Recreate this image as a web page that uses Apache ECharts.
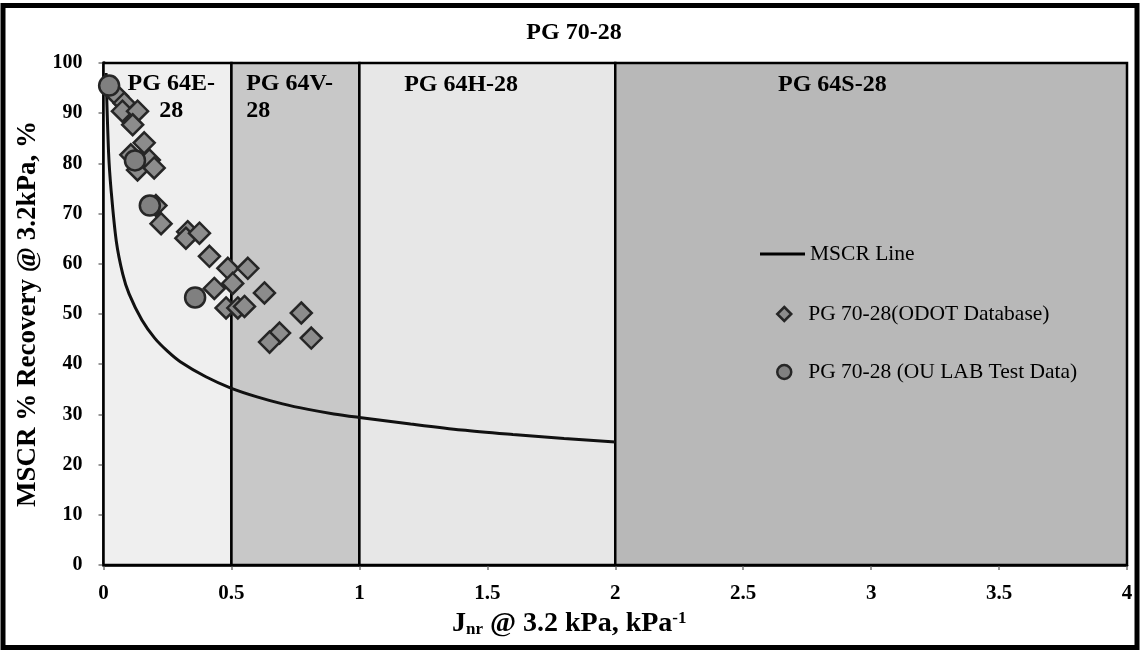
<!DOCTYPE html>
<html>
<head>
<meta charset="utf-8">
<title>PG 70-28</title>
<script src="https://cdn.jsdelivr.net/npm/echarts@6/dist/echarts.min.js"></script>
<style>
  html, body { margin: 0; padding: 0; background: #fff; }
  #chart { width: 1140px; height: 650px; }
</style>
</head>
<body>
<div id="chart"></div>
<script>
// MSCR line (recovery limit curve), Jnr in kPa^-1 vs % recovery
const mscrJnr = [0.01, 0.02, 0.03, 0.05, 0.075, 0.1, 0.15, 0.2, 0.25, 0.3, 0.4, 0.5, 0.6, 0.7, 0.8, 0.9, 1.0, 1.2, 1.4, 1.6, 1.8, 2.0];
const mscrRecovery = [98, 82, 74.5, 64.5, 58, 54, 48.8, 45.2, 42.6, 40.5, 37.5, 35.2, 33.5, 32.1, 31, 30.1, 29.4, 28.1, 26.9, 26, 25.2, 24.5];

// PG 70-28 binders from the ODOT database
const odotJnr = [0.055, 0.081, 0.074, 0.133, 0.114, 0.159, 0.107, 0.179, 0.133, 0.198, 0.205, 0.225, 0.329, 0.322, 0.375, 0.414, 0.486, 0.564, 0.505, 0.433, 0.629, 0.479, 0.525, 0.551, 0.773, 0.688, 0.649, 0.812];
const odotRecovery = [93.4, 92.0, 90.4, 90.4, 87.7, 84.1, 81.7, 80.7, 78.7, 79.1, 71.6, 68.0, 66.4, 65.1, 66.1, 61.5, 59.1, 59.1, 56.1, 55.1, 54.2, 51.2, 51.2, 51.5, 50.2, 46.2, 44.4, 45.2];

// PG 70-28 binders tested in the OU lab
const labJnr = [0.022, 0.123, 0.181, 0.358];
const labRecovery = [95.5, 80.6, 71.6, 53.3];

// Traffic grade bands along the Jnr axis
const gradeBounds = [0, 0.5, 1, 2, 4];
const gradeNames = ['PG 64E-\n28', 'PG 64V-\n28', 'PG 64H-28', 'PG 64S-28'];

// Axis ticks
const xTicks = { min: 0, max: 4, step: 0.5 };
const yTicks = { min: 0, max: 100, step: 10 };

const SERIF = '"Liberation Serif", "Times New Roman", serif';

const bandFills = ['#efefef', '#c8c8c8', '#e7e7e7', '#b8b8b8'];
const bandLabelPos = [[69, 9, 'center'], [16, 9, 'left'], [46, 10, 'left'], [164, 10, 'left']];

const bandAreas = gradeNames.map((name, i) => [
  {
    name: name,
    xAxis: gradeBounds[i],
    yAxis: yTicks.min,
    itemStyle: { color: bandFills[i], borderColor: '#000', borderWidth: 2.5 },
    label: {
      show: true,
      position: [bandLabelPos[i][0], bandLabelPos[i][1]],
      align: bandLabelPos[i][2],
      verticalAlign: 'top',
      color: '#000',
      fontFamily: SERIF,
      fontWeight: 'bold',
      fontSize: 24,
      lineHeight: 27
    }
  },
  { xAxis: gradeBounds[i + 1], yAxis: yTicks.max }
]);

const zip = (xs, ys) => xs.map((x, i) => [x, ys[i]]);

const legendText = (padLeft) => ({
  fontFamily: SERIF, fontSize: 21.5, color: '#000', lineHeight: 20,
  padding: [0, 0, 0, padLeft]
});

const chart = echarts.init(document.getElementById('chart'), null, { renderer: 'canvas' });

chart.setOption({
  animation: false,
  backgroundColor: '#fff',
  title: {
    text: 'PG 70-28',
    left: 569,
    textAlign: 'center',
    top: 16,
    textStyle: { fontFamily: SERIF, fontWeight: 'bold', fontSize: 24, color: '#000' }
  },
  grid: { left: 103.5, right: 13, top: 63, bottom: 85 },
  legend: [
    {
      data: [{ name: 'MSCR Line', icon: 'path://M0,0 L45,0 L45,3 L0,3 Z' }],
      left: 760, top: 243, padding: 0, itemWidth: 45, itemHeight: 14,
      itemStyle: { color: '#000' },
      textStyle: legendText(0)
    },
    {
      data: ['PG 70-28(ODOT Database)'],
      left: 776, top: 303, padding: 0, itemWidth: 14, itemHeight: 14,
      itemStyle: { borderWidth: 2.5 },
      textStyle: legendText(12)
    },
    {
      data: ['PG 70-28 (OU LAB Test Data)'],
      left: 776, top: 361, padding: 0, itemWidth: 14, itemHeight: 14,
      itemStyle: { borderWidth: 2.5 },
      textStyle: legendText(12)
    }
  ],
  xAxis: {
    type: 'value',
    min: xTicks.min, max: xTicks.max, interval: xTicks.step,
    name: '{b|J}{sub|nr}{b| @ 3.2 kPa, kPa}{sup|-1}',
    nameLocation: 'middle',
    nameGap: 45,
    nameTextStyle: {
      padding: [0, 92, 0, 0],
      rich: {
        b: { fontFamily: SERIF, fontWeight: 'bold', fontSize: 28, color: '#000', lineHeight: 28 },
        sub: { fontFamily: SERIF, fontWeight: 'bold', fontSize: 17, color: '#000', lineHeight: 14, verticalAlign: 'bottom' },
        sup: { fontFamily: SERIF, fontWeight: 'bold', fontSize: 17, color: '#000', lineHeight: 14, verticalAlign: 'top' }
      }
    },
    splitLine: { show: false },
    axisLine: { lineStyle: { color: '#000', width: 2.5 } },
    axisTick: { show: true, length: 5, lineStyle: { color: '#777', width: 1.5 } },
    axisLabel: {
      margin: 18,
      fontFamily: SERIF, fontWeight: 'bold', fontSize: 21, color: '#000',
      formatter: v => String(v)
    }
  },
  yAxis: {
    type: 'value',
    min: yTicks.min, max: yTicks.max, interval: yTicks.step,
    name: 'MSCR % Recovery @ 3.2kPa, %',
    nameLocation: 'middle',
    nameGap: 49,
    nameTextStyle: { fontFamily: SERIF, fontWeight: 'bold', fontSize: 27, color: '#000' },
    splitLine: { show: false },
    axisLine: { show: true, lineStyle: { color: '#000', width: 3.5 } },
    axisTick: { show: true, length: 5, lineStyle: { color: '#777', width: 1.5 } },
    axisLabel: {
      margin: 21,
      fontFamily: SERIF, fontWeight: 'bold', fontSize: 20, color: '#000'
    }
  },
  graphic: [
    {
      type: 'rect',
      shape: { x: 3, y: 5.5, width: 1134, height: 642 },
      style: { fill: 'none', stroke: '#000', lineWidth: 5 },
      silent: true,
      z: 100
    }
  ],
  series: [
    {
      name: 'grade bands',
      type: 'line',
      data: [],
      silent: true,
      z: 1,
      markArea: { silent: true, data: bandAreas }
    },
    {
      name: 'MSCR Line',
      type: 'line',
      data: zip(mscrJnr, mscrRecovery),
      smooth: 0.3,
      showSymbol: false,
      symbol: 'none',
      lineStyle: { color: '#111', width: 3 },
      itemStyle: { color: '#000' },
      z: 3
    },
    {
      name: 'PG 70-28(ODOT Database)',
      type: 'scatter',
      data: zip(odotJnr, odotRecovery),
      symbol: 'diamond',
      symbolSize: 21,
      itemStyle: { color: '#8c8c8c', borderColor: '#262626', borderWidth: 2.5, opacity: 1 },
      z: 4
    },
    {
      name: 'PG 70-28 (OU LAB Test Data)',
      type: 'scatter',
      data: zip(labJnr, labRecovery),
      symbol: 'circle',
      symbolSize: 20,
      itemStyle: { color: '#808080', borderColor: '#262626', borderWidth: 2.5, opacity: 1 },
      z: 5
    }
  ]
});
</script>
</body>
</html>
